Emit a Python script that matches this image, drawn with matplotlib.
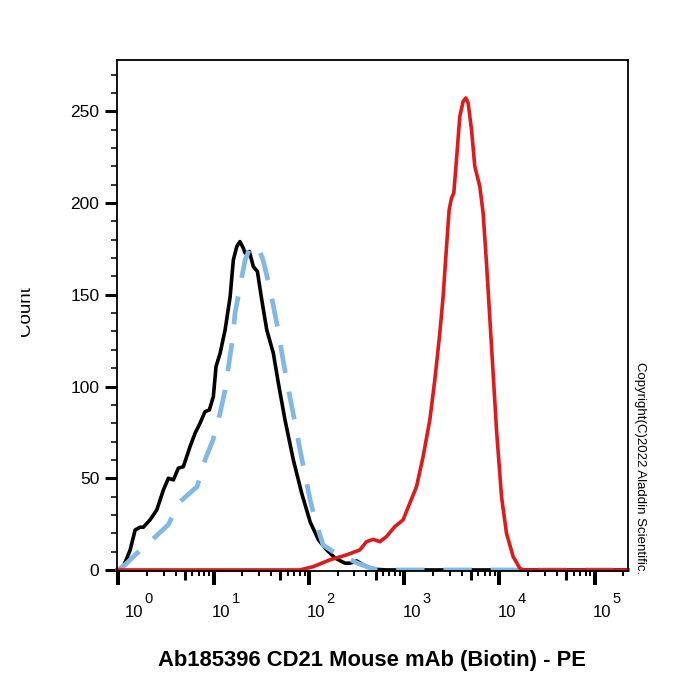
import matplotlib
matplotlib.use('Agg')
import matplotlib.pyplot as plt
from matplotlib.ticker import FixedLocator, NullLocator
from matplotlib.transforms import Bbox, TransformedBbox, offset_copy

plt.rcParams['font.family'] = ['Liberation Sans', 'DejaVu Sans']

# ---------------------------------------------------------------
# histogram traces (PE intensity, count)
# ---------------------------------------------------------------
black_x = [0.96, 1.13, 1.33, 1.50, 1.69, 1.83, 2.15, 2.53, 2.97, 3.35, 3.78, 4.26, 4.81,
           5.65, 6.38, 7.20, 8.12, 9.01, 9.93, 10.6, 11.7, 13.2, 14.9, 16.1, 17.5, 18.9,
           20.5, 21.4, 23.7, 26.1, 28.8, 32.0, 36.1, 42.3, 47.8, 56.1, 68.6, 84.0, 103,
           126, 154, 188, 239, 270, 318, 372, 474, 655, 2.23e5]
black_y = [0, 1.8, 10.9, 21.8, 23.3, 23.3, 27.3, 32.7, 43.6, 50.0, 49.1, 55.5, 56.3,
           67.2, 74.5, 80.0, 86.3, 87.2, 94.5, 110.9, 118.2, 130.9, 149.0, 169.0, 176.3, 179.0,
           175.4, 172.7, 173.6, 165.4, 162.7, 147.2, 130.9, 118.2, 101.8, 81.8, 60.0, 41.8, 26.2,
           16.4, 10.9, 6.5, 3.7, 3.7, 4.9, 2.7, 0.4, 0, 0]

blue_x = [0.99, 1.17, 1.50, 2.15, 3.32, 4.44, 6.70, 8.12, 9.86, 11.7, 13.2, 14.5, 15.6,
          16.8, 18.9, 21.4, 24.1, 27.2, 29.3, 33.0, 36.4, 42.1, 47.4, 53.5, 63.4, 71.5,
          80.7, 91.2, 103, 116, 141, 188, 239, 320, 437, 557, 2.23e5]
blue_y = [0, 2.7, 8.2, 15.4, 24.5, 37.2, 45.4, 60.0, 70.9, 85.6, 98.1, 112.9, 123.8,
          140.1, 154.3, 169.0, 175.6, 177.2, 176.1, 169.0, 159.8, 144.6, 130.9, 114.5, 93.8, 80.2,
          65.4, 51.8, 38.2, 27.3, 13.6, 9.3, 7.1, 3.8, 1.1, 0, 0]

red_x = [0.965, 80, 111, 166, 248, 342, 402, 472, 555, 652, 796, 973, 1145, 1346, 1579,
         1857, 2095, 2364, 2561, 2780, 2961, 3135, 3315, 3537, 3832, 4150, 4430, 4685,
         5086, 5508, 6216, 6734, 7304, 8248, 9306, 10500, 11840, 13900, 16330, 17800, 2.23e5]
red_y = [0, 0, 1.8, 5.5, 8.2, 10.9, 15.4, 16.7, 15.4, 18.2, 23.6, 27.3, 36.4, 45.4, 61.8,
         81.8, 103.6, 129.1, 149.1, 176.3, 196.3, 202.7, 205.5, 223.6, 247.2, 255.4, 257.3, 254.6,
         240.0, 219.9, 209.0, 194.5, 167.2, 121.8, 76.3, 40.0, 20.0, 7.3, 0.9, 0, 0]

decades = [0, 1, 2, 3, 4, 5]
y_major = [0, 50, 100, 150, 200, 250]
y_minor = [10, 20, 30, 40, 60, 70, 80, 90, 110, 120, 130, 140, 160, 170, 180, 190,
           210, 220, 230, 240, 260, 270]

x_label = "Ab185396 CD21 Mouse mAb (Biotin) - PE"
y_label = "Count"
copyright_txt = "Copyright(C)2022 Aladdin Scientific."

# ---------------------------------------------------------------
fig = plt.figure(figsize=(7, 7), dpi=100)
ax = fig.add_axes([0.1669, 0.185, 0.7302, 0.7293])

ax.plot(black_x, black_y, color='black', lw=2.6, solid_joinstyle='round')
ax.plot(blue_x, blue_y, color='#82b9e4', lw=3.4, linestyle=(0, (6, 4)))
ax.plot(red_x, red_y, color='#dc1c1c', lw=2.6, clip_on=False, solid_joinstyle='round')

ax.set_xscale('log')
ax.set_xlim(0.964, 2.23e5)
ax.set_ylim(-0.3, 278)

for s in ax.spines.values():
    s.set_linewidth(1.3)
    s.set_color('black')

# x ticks: decades (long), 2..9 (short), 5 (medium via secondary axis)
ax.xaxis.set_major_locator(FixedLocator([10.0 ** e for e in decades]))
minors = [m * 10.0 ** e for e in decades for m in (2, 3, 4, 6, 7, 8, 9) if m * 10.0 ** e < 2.23e5]
ax.xaxis.set_minor_locator(FixedLocator(minors))
ax.tick_params(axis='x', which='major', direction='out', length=10, width=2.9,
               labelbottom=False)
ax.tick_params(axis='x', which='minor', direction='out', length=3.6, width=1.4,
               labelbottom=False)

sec = ax.secondary_xaxis('bottom')
sec.xaxis.set_major_locator(FixedLocator([5 * 10.0 ** e for e in decades[:-1]]))
sec.xaxis.set_minor_locator(NullLocator())
sec.tick_params(axis='x', direction='out', length=6.5, width=2.2, labelbottom=False)
sec.spines['bottom'].set_visible(False)

# "10" + raised exponent, drawn by hand so the exponent can be larger
for e in decades:
    dx = 4.8 if e == 0 else -1.4
    base = offset_copy(ax.get_xaxis_transform(), fig=fig, x=dx, y=-33.5, units='points')
    ax.text(10.0 ** e, 0, "10", transform=base, ha='left', va='baseline', fontsize=12)
    sup = offset_copy(ax.get_xaxis_transform(), fig=fig, x=dx + 14.2, y=-23.4, units='points')
    ax.text(10.0 ** e, 0, str(e), transform=sup, ha='left', va='baseline', fontsize=10.5)

# y ticks
ax.yaxis.set_major_locator(FixedLocator(y_major))
ax.yaxis.set_minor_locator(FixedLocator(y_minor))
ax.tick_params(axis='y', which='major', direction='out', length=9, width=2.2,
               labelsize=12.5, pad=3.5)
ax.tick_params(axis='y', which='minor', direction='out', length=4.3, width=1.1)

# labels
fig.text(0.532, 1 - 666 / 700, x_label, ha='center', va='baseline',
         fontsize=15.8, fontweight='bold')

yl = fig.text(25.5 / 700, 1 - 311 / 700, y_label, rotation=90, ha='center',
              va='center', fontsize=13.5)
yl.set_clip_box(TransformedBbox(Bbox([[21 / 700, 0], [1, 1]]), fig.transFigure))

fig.text(640 / 700, 1 - 468 / 700, copyright_txt, rotation=-90, ha='center',
         va='center', fontsize=9.5)

fig.savefig('out.png', dpi=100)
